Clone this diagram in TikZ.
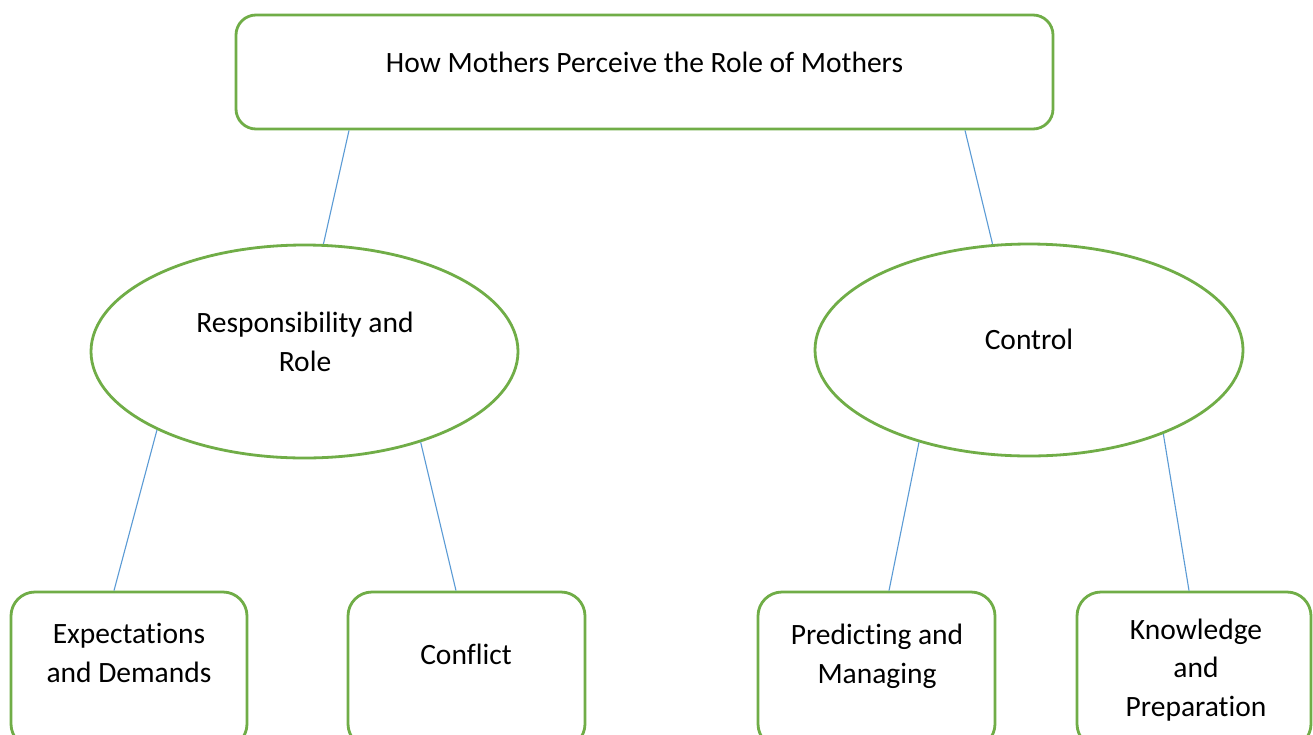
\documentclass[tikz,border=0pt]{standalone}
\usepackage{fontspec}
\setmainfont{Carlito}[Ligatures=NoCommon]
\usetikzlibrary{shapes.geometric,calc}
\definecolor{grn}{HTML}{70AD47}
\definecolor{blu}{HTML}{5B9BD5}
\begin{document}
\begin{tikzpicture}[x=1pt,y=-1pt,
  box/.style={draw=grn,line width=2.8pt,rounded corners=24pt,inner sep=0pt},
  oval/.style={draw=grn,line width=2.8pt,ellipse,inner sep=0pt},
  lbl/.style={font=\fontsize{29.5}{38.5}\selectfont,align=center,anchor=base,inner sep=0pt},
  link/.style={draw=blu,line width=1.1pt}]
\useasboundingbox (0,0) rectangle (1313,734);
\fill[white] (0,0) rectangle (1313,734);
\clip (0,0) rectangle (1313,734);
% shapes
\node[box,rounded corners=20pt,minimum width=817pt,minimum height=114pt] (T) at (644.5,72) {};
\node[oval,minimum width=427pt,minimum height=213pt] (L) at (304.5,351.5) {};
\node[oval,minimum width=428pt,minimum height=212pt] (R) at (1029,350) {};
\node[box,minimum width=236pt,minimum height=156pt] (B1) at (129,670) {};
\node[box,minimum width=237pt,minimum height=156pt] (B2) at (466.5,670) {};
\node[box,minimum width=237pt,minimum height=156pt] (B3) at (876.5,670) {};
\node[box,minimum width=234pt,minimum height=156pt] (B4) at (1194,670) {};
% connectors
\draw[link] (T.south -| 349,0) -- (L.80);
\draw[link] (T.south -| 965,0) -- (R.109);
\draw[link] (L.208) -- (B1.north -| 114,0);
\draw[link] (L.322) -- (B2.north -| 456,0);
\draw[link] (R.220) -- (B3.north -| 889,0);
\draw[link] (R.328) -- (B4.north -| 1189,0);
% labels (anchor=base is the baseline of the last line)
\node[lbl] (tT) at (644.5,72) {How Mothers Perceive the Role of Mothers};
\node[lbl] (tL) at (305,371) {Responsibility and\\Role};
\node[lbl] (tR) at (1029,349) {Control};
\node[lbl] (t1) at (129,682) {Expectations\\and Demands};
\node[lbl] (t2) at (466,664) {Conflict};
\node[lbl] (t3) at (877,683) {Predicting and\\Managing};
\node[lbl] (t4) at (1196,716) {Knowledge\\and\\Preparation};
\end{tikzpicture}
\end{document}
